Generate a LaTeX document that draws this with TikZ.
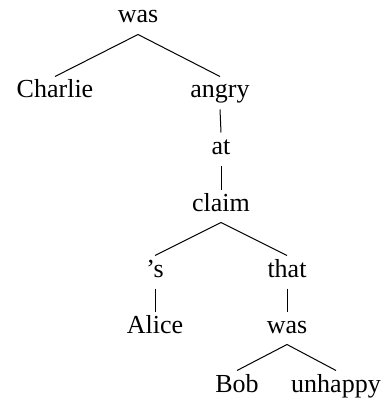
\documentclass[tikz,border=0pt]{standalone}
\usepackage{fontspec}
\setmainfont{Liberation Serif}
\usetikzlibrary{positioning}

\begin{document}
\begin{tikzpicture}[x=1pt, y=-1pt, line width=1pt,
		word/.style={anchor=base, inner xsep=2pt, inner ysep=4pt, text height=17pt, text depth=7pt, font=\fontsize{26}{31}\selectfont}]
				      \useasboundingbox (0,0) rectangle (384,398);
				      \node[name=was, word]     at (138,23)  {was};
				      \node[name=charlie, word] at (55,98)   {Charlie};
				      \node[name=angry, word]   at (220,98)  {angry};
				      \node[name=at, word]      at (221,154) {at};
				      \node[name=claim, word]   at (221,211) {claim};
				      \node[name=poss, word]    at (155,277) {'s};
				      \node[name=that, word]    at (287,277) {that};
				      \node[name=alice, word]   at (155,333) {Alice};
				      \node[name=wasb, word]    at (287,333) {was};
				      \node[name=bob, word]     at (237,392) {Bob};
				      \node[name=unhappy, word] at (336,392) {unhappy};
				      \draw (was.south) edge (charlie.north) edge (angry.north);
				      \draw (angry.south) edge (at.north);
				      \draw (at.south) edge (claim.north);
				      \draw (claim.south) edge (poss.north) edge (that.north);
				      \draw (poss.south) edge (alice.north);
				      \draw (that.south) edge (wasb.north);
				      \draw (wasb.south) edge (bob.north) edge (unhappy.north);
			      \end{tikzpicture}
\end{document}
